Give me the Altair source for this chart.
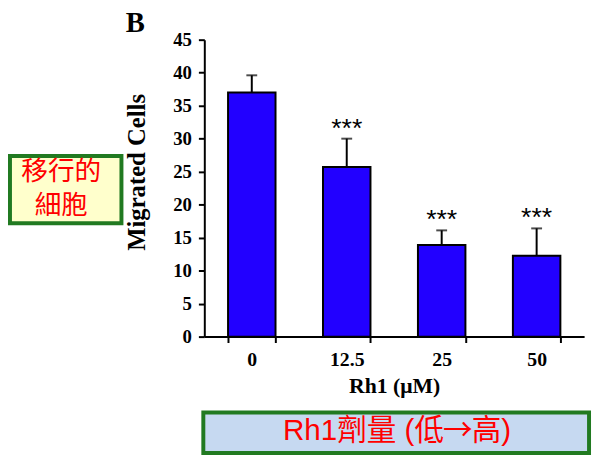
import altair as alt
import pandas as pd

conc = ["0", "12.5", "25", "50"]
means = [37.0, 25.7, 13.9, 12.25]
upper = [39.6, 30.0, 16.1, 16.4]
stars = ["", "***", "***", "***"]
y_ticks = [0, 5, 10, 15, 20, 25, 30, 35, 40, 45]

df = pd.DataFrame({"conc": conc, "mean": means, "upper": upper, "stars": stars})
dummy = pd.DataFrame({"a": [0]})

SERIF = "Liberation Serif"
SANS_CJK = "Liberation Sans, Noto Sans CJK TC"
CJK = "Noto Sans CJK TC"
RED = "#ff0000"
GREEN = "#217a21"

x_axis = alt.Axis(
    labelAngle=0,
    tickBand="extent",
    tickSize=6,
    tickWidth=2,
    tickColor="black",
    domainColor="black",
    domainWidth=2,
    labelFont=SERIF,
    labelFontWeight="bold",
    labelFontSize=20,
    labelColor="black",
    labelPadding=7,
    titleFont=SERIF,
    titleFontWeight="bold",
    titleFontSize=22,
    titleColor="black",
    titlePadding=7,
)
y_axis = alt.Axis(
    values=y_ticks,
    labelOverlap=False,
    labelFlush=False,
    grid=False,
    tickSize=6,
    tickWidth=2,
    tickColor="black",
    domainColor="black",
    domainWidth=2,
    labelFont=SERIF,
    labelFontWeight="bold",
    labelFontSize=19,
    labelColor="black",
    labelPadding=7,
    titleFont=SERIF,
    titleFontWeight="bold",
    titleFontSize=25,
    titleColor="black",
    titleX=-56,
    titleY=134,
)
x_scale = alt.Scale(paddingInner=0.5, paddingOuter=0.25)
y_scale = alt.Scale(domain=[0, 45], nice=False)


def X():
    return alt.X("conc:N", sort=conc, title="Rh1 (μM)", scale=x_scale, axis=x_axis)


def Y(field):
    return alt.Y(field, title="Migrated Cells", scale=y_scale, axis=y_axis)


bars = alt.Chart(df).mark_bar(color="#2200ff", stroke="black", strokeWidth=2).encode(x=X(), y=Y("mean:Q"))
err = alt.Chart(df).mark_rule(color="black", strokeWidth=2).encode(
    x=X(), y=Y("mean:Q"), y2="upper:Q"
)
cap = alt.Chart(df).mark_tick(color="black", thickness=2, size=11).encode(x=X(), y=Y("upper:Q"))
star_txt = alt.Chart(df).mark_text(
    font="Liberation Sans", fontSize=27, dy=-10, baseline="middle", color="black"
).encode(x=X(), y=Y("upper:Q"), text="stars:N")

label_b = alt.Chart(dummy).mark_text(
    text="B", font=SERIF, fontWeight="bold", fontSize=29, baseline="alphabetic", align="center", color="black"
).encode(x=alt.value(-70), y=alt.value(-8))

box_left = alt.Chart(dummy).mark_rect(
    fill="#ffffcc", stroke=GREEN, strokeWidth=4
).encode(x=alt.value(-197), x2=alt.value(-84), y=alt.value(118), y2=alt.value(186))
txt_left = alt.Chart(dummy).mark_text(
    text=["移行的", "細胞"], lineHeight=35, font=CJK, fontSize=27, color=RED,
    baseline="middle", align="center"
).encode(x=alt.value(-145), y=alt.value(134))

box_bot = alt.Chart(dummy).mark_rect(
    fill="#c6d9f1", stroke=GREEN, strokeWidth=4
).encode(x=alt.value(-1), x2=alt.value(390), y=alt.value(378), y2=alt.value(419))
txt_bot1 = alt.Chart(dummy).mark_text(
    text="Rh1劑量 (低", font=SANS_CJK, fontSize=30, color=RED, baseline="middle", align="right"
).encode(x=alt.value(243), y=alt.value(397))
txt_bot2 = alt.Chart(dummy).mark_text(
    text="→", font=CJK, fontSize=30, color=RED, baseline="middle", align="center"
).encode(x=alt.value(257), y=alt.value(397))
txt_bot3 = alt.Chart(dummy).mark_text(
    text="高)", font=SANS_CJK, fontSize=30, color=RED, baseline="middle", align="left"
).encode(x=alt.value(271), y=alt.value(397))

chart = alt.layer(
    bars, err, cap, star_txt, label_b, box_left, txt_left,
    box_bot, txt_bot1, txt_bot2, txt_bot3
).properties(
    width=385,
    height=301,
    autosize=alt.AutoSizeParams(type="none"),
    padding={"left": 199, "top": 29, "right": 8, "bottom": 125},
).configure(background="white").configure_view(stroke=None)

chart.save("out.html", embed_options={"renderer": "svg", "actions": False})
